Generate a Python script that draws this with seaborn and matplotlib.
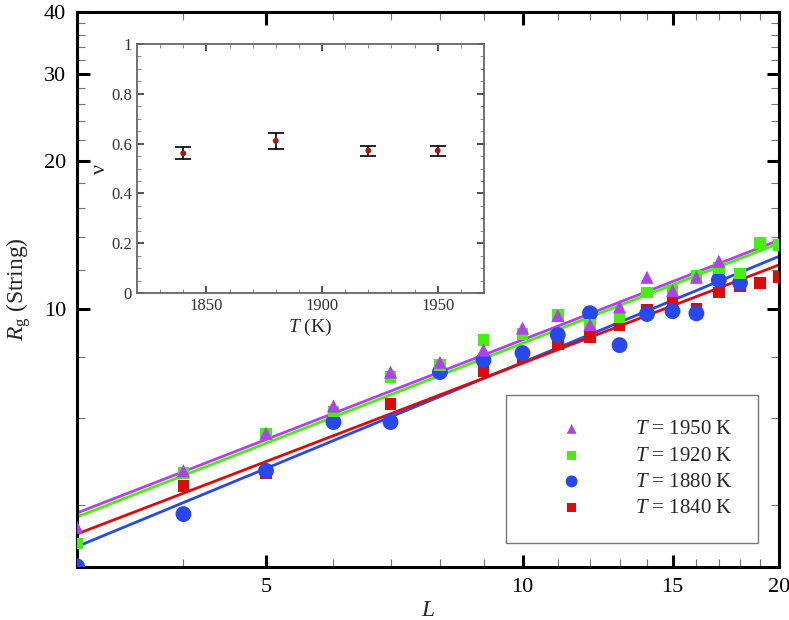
import numpy as np
import pandas as pd
import matplotlib
matplotlib.use("Agg")
import matplotlib.pyplot as plt
from matplotlib.ticker import FixedLocator, NullFormatter, FixedFormatter
import seaborn as sns

# string size L and radius of gyration for each temperature
L_1950 = [3, 4, 5, 6, 7, 8, 9, 10, 11, 12, 13, 14, 15, 16, 17]
Rg_1950 = [3.61, 4.7, 5.6, 6.36, 7.45, 7.8, 8.26, 9.15, 9.7, 9.3, 10.1, 11.6, 10.9, 11.6, 12.5]
L_1920 = [3, 4, 5, 6, 7, 8, 9, 10, 11, 12, 13, 14, 15, 16, 17, 18, 19, 20]
Rg_1920 = [3.35, 4.65, 5.58, 6.2, 7.28, 7.7, 8.65, 8.9, 9.72, 9.28, 9.63, 10.8, 10.9, 11.7, 12.1, 11.8, 13.6, 13.5]
L_1880 = [3, 4, 5, 6, 7, 8, 9, 10, 11, 12, 13, 14, 15, 16, 17, 18]
Rg_1880 = [3.01, 3.84, 4.70, 5.9, 5.9, 7.45, 7.88, 8.14, 8.86, 9.81, 8.45, 9.77, 9.9, 9.8, 11.45, 11.3]
L_1840 = [3, 4, 5, 6, 7, 8, 9, 10, 11, 12, 13, 14, 15, 16, 17, 18, 19, 20]
Rg_1840 = [None, 4.38, 4.65, 6.01, 6.42, 7.55, 7.49, 7.99, 8.49, 8.77, 9.28, 9.95, 10.4, 10.0, 10.8, 11.1, 11.3, 11.6]

# power-law fits Rg = A * L^nu
temps = [1950, 1920, 1880, 1840]
fit_A = [1.847, 1.809, 1.506, 1.691]
fit_nu = [0.671, 0.673, 0.714, 0.662]

# inset: exponent nu vs temperature
T_inset = [1840, 1880, 1920, 1950]
nu_inset = [0.561, 0.611, 0.572, 0.572]
nu_err = [0.024, 0.033, 0.020, 0.020]

colors = {1950: "#B33FF2", 1920: "#44F00C", 1880: "#2648EE", 1840: "#DD0A0A"}
markers = {1950: "^", 1920: "s", 1880: "o", 1840: "s"}
sizes = {1950: 90, 1920: 70, 1880: 130, 1840: 70}

sns.set_style("ticks")
plt.rcParams["font.family"] = ["Liberation Serif", "DejaVu Serif"]
plt.rcParams["mathtext.fontset"] = "custom"
plt.rcParams["mathtext.rm"] = "Liberation Serif"
plt.rcParams["mathtext.it"] = "Liberation Serif:italic"

frames = []
for T, Ls, Rs in [(1950, L_1950, Rg_1950), (1920, L_1920, Rg_1920),
                  (1880, L_1880, Rg_1880), (1840, L_1840, Rg_1840)]:
    d = pd.DataFrame({"L": Ls, "Rg": Rs})
    d["T"] = T
    frames.append(d.dropna())
df = pd.concat(frames, ignore_index=True)

fig = plt.figure(figsize=(7.89, 6.2), dpi=100)
ax = fig.add_axes([0.0976, 0.0855, 0.8897, 0.8951])
ax.set_xscale("log")
ax.set_yscale("log")

# fit lines
L_line = np.array([3.0, 20.0])
for T, A, nu in zip(temps, fit_A, fit_nu):
    sns.lineplot(x=L_line, y=A * L_line ** nu, color=colors[T], lw=2, ax=ax,
                 legend=False, zorder=2)

# points (1840 drawn first so order matches)
for T in [1840, 1880, 1920, 1950]:
    sub = df[df["T"] == T]
    sns.scatterplot(data=sub, x="L", y="Rg", color=colors[T], marker=markers[T],
                    s=sizes[T], edgecolor="none", ax=ax, zorder=3,
                    label=f"$T$ = {T} K")

ax.set_xlim(3, 20)
ax.set_ylim(3, 40)
ax.xaxis.set_major_locator(FixedLocator([5, 10, 15, 20]))
ax.xaxis.set_major_formatter(FixedFormatter(["5", "10", "15", "20"]))
ax.xaxis.set_minor_locator(FixedLocator([4, 6, 7, 8, 9, 11, 12, 13, 14, 16, 17, 18, 19]))
ax.xaxis.set_minor_formatter(NullFormatter())
ax.yaxis.set_major_locator(FixedLocator([10, 20, 30, 40]))
ax.yaxis.set_major_formatter(FixedFormatter(["10", "20", "30", "40"]))
ax.yaxis.set_minor_locator(FixedLocator([4, 6, 8] + list(range(12, 40, 2))))
ax.yaxis.set_minor_formatter(NullFormatter())
ax.tick_params(which="major", direction="in", length=9, width=2.2, colors="black",
               top=True, right=True, labelsize=16, pad=8)
ax.tick_params(which="minor", direction="in", length=6, width=0.8, color="#777777",
               top=True, right=True)
for s in ax.spines.values():
    s.set_linewidth(2.2)
    s.set_color("black")
ax.set_xlabel("$L$", fontsize=17, labelpad=2)
ax.set_ylabel(r"$R_{\mathrm{g}}$ (String)", fontsize=17, labelpad=8)

handles, labels = ax.get_legend_handles_labels()
order = [labels.index(f"$T$ = {T} K") for T in temps]
leg = ax.legend([handles[i] for i in order], [labels[i] for i in order],
                loc="lower right", bbox_to_anchor=(0.97, 0.043), fontsize=15,
                frameon=True, fancybox=False, edgecolor="#555555",
                handletextpad=1.1, borderpad=1.2, labelspacing=0.32,
                borderaxespad=0, markerscale=0.75, handlelength=3.9)
leg.get_frame().set_linewidth(1.0)

# inset
axi = fig.add_axes([0.1736, 0.5274, 0.4398, 0.4016])
axi.errorbar(T_inset, nu_inset, yerr=nu_err, fmt="none", ecolor="black",
             elinewidth=1.2, capsize=6, capthick=1.2, zorder=2)
sns.scatterplot(x=T_inset, y=nu_inset, color="#B01515", s=18, edgecolor="none",
                ax=axi, zorder=3)
axi.set_xlim(1820, 1970)
axi.set_ylim(0, 1)
axi.xaxis.set_major_locator(FixedLocator([1850, 1900, 1950]))
axi.xaxis.set_minor_locator(FixedLocator(list(range(1830, 1970, 10))))
axi.yaxis.set_major_locator(FixedLocator([0, 0.2, 0.4, 0.6, 0.8, 1]))
axi.yaxis.set_major_formatter(FixedFormatter(["0", "0.2", "0.4", "0.6", "0.8", "1"]))
axi.yaxis.set_minor_locator(FixedLocator(list(np.arange(0.05, 1.0, 0.05))))
axi.tick_params(which="major", direction="in", length=5, width=1.2, colors="#333333",
                top=True, right=True, labelsize=12, labelcolor="#333333")
axi.tick_params(which="minor", direction="in", length=3, width=0.7, color="#888888",
                top=True, right=True)
for s in axi.spines.values():
    s.set_linewidth(1.3)
    s.set_color("#666666")
axi.set_xlabel("$T$ (K)", fontsize=14, labelpad=2)
axi.set_ylabel("ν", fontsize=16, labelpad=1)

fig.savefig("out.png", dpi=100)
